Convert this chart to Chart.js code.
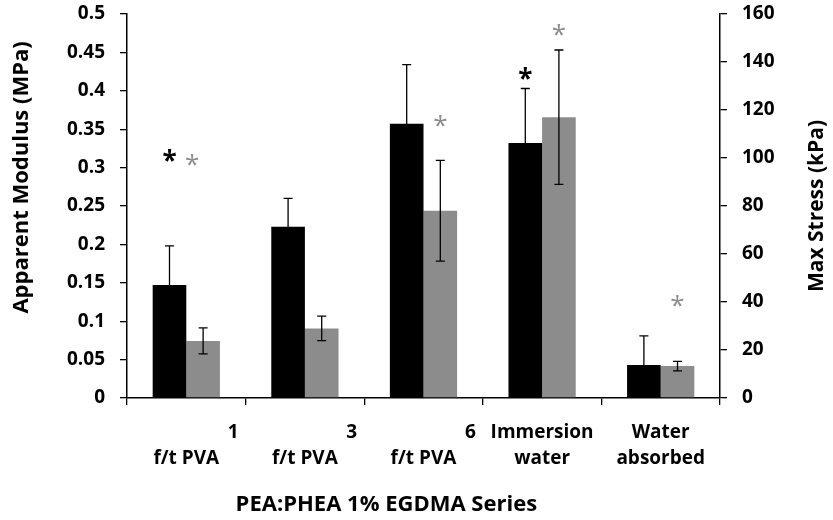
<!DOCTYPE html>
<html>
<head>
<meta charset="utf-8">
<script src="https://cdn.jsdelivr.net/npm/chart.js@4.4.1/dist/chart.umd.min.js"></script>
<style>
  html, body { margin: 0; padding: 0; background: #fff; }
</style>
</head>
<body>
<canvas id="chart" width="833" height="520"></canvas>
<script>
// data
const catTop = ['1', '3', '6', 'Immersion', 'Water'];
const catBottom = ['f/t PVA', 'f/t PVA', 'f/t PVA', 'water', 'absorbed'];

const modulus = [0.147, 0.223, 0.357, 0.332, 0.043];      // MPa, left axis
const modulusErr = [0.051, 0.037, 0.077, 0.071, 0.038];
const stress = [23.8, 29.0, 78.0, 117.0, 13.3];           // kPa, right axis
const stressErr = [5.4, 5.1, 21.0, 28.0, 2.0];

// significance markers (value on each axis, null = none)
const modulusStars = [0.316, null, null, 0.423, null];
const stressStars = [100, null, 116, 154, 41];

const modulusTicks = [0, 0.05, 0.1, 0.15, 0.2, 0.25, 0.3, 0.35, 0.4, 0.45, 0.5];
const stressTicks = [0, 20, 40, 60, 80, 100, 120, 140, 160];

const FONT = '"Open Sans", "Liberation Sans", sans-serif';
const GRAY = '#8c8c8c';

// numeric labels sit to the right in the original, pad them with spaces
const labels = catTop.map((t, i) => {
  const top = /^\d+$/.test(t) ? ' '.repeat(19) + t : t;
  return [top, catBottom[i]];
});

const extras = {
  id: 'extras',
  afterDatasetsDraw(chart) {
    const ctx = chart.ctx;
    const y = chart.scales.y, y2 = chart.scales.y2;
    const m0 = chart.getDatasetMeta(0), m1 = chart.getDatasetMeta(1);
    ctx.save();
    ctx.strokeStyle = '#000';
    ctx.lineWidth = 1.3;
    const bar = (x, v, e, scale) => {
      const top = scale.getPixelForValue(v + e);
      const bot = scale.getPixelForValue(Math.max(0, v - e));
      ctx.beginPath();
      ctx.moveTo(x, top); ctx.lineTo(x, bot);
      ctx.moveTo(x - 4.5, top); ctx.lineTo(x + 4.5, top);
      ctx.moveTo(x - 4.5, bot); ctx.lineTo(x + 4.5, bot);
      ctx.stroke();
    };
    modulus.forEach((v, i) => bar(m0.data[i].x, v, modulusErr[i], y));
    stress.forEach((v, i) => bar(m1.data[i].x, v, stressErr[i], y2));

    // asterisks
    const fs = 26;
    ctx.textAlign = 'center';
    ctx.textBaseline = 'alphabetic';
    ctx.fillStyle = '#000';
    ctx.font = 'bold ' + fs + 'px ' + FONT;
    modulusStars.forEach((v, i) => {
      if (v == null) return;
      ctx.fillText('*', m0.data[i].x, y.getPixelForValue(v) + 0.56 * fs);
    });
    ctx.fillStyle = GRAY;
    ctx.font = fs + 'px ' + FONT;
    stressStars.forEach((v, i) => {
      if (v == null) return;
      const x = i === 0 ? m1.data[i].x - 11 : m1.data[i].x;
      ctx.fillText('*', x, y2.getPixelForValue(v) + 0.56 * fs);
    });
    ctx.restore();
  },
  afterDraw(chart) {
    // right title reads bottom-to-top like the left one
    const ctx = chart.ctx, a = chart.chartArea;
    ctx.save();
    ctx.translate(817, (a.top + a.bottom) / 2);
    ctx.rotate(-Math.PI / 2);
    ctx.font = 'bold 21px ' + FONT;
    ctx.fillStyle = '#000';
    ctx.textAlign = 'center';
    ctx.textBaseline = 'middle';
    ctx.fillText('Max Stress (kPa)', 0, 0);
    ctx.restore();
  }
};

const tickFont = { family: FONT, size: 19, weight: 'bold' };
const titleFont = { family: FONT, size: 22, weight: 'bold' };

new Chart(document.getElementById('chart'), {
  type: 'bar',
  data: {
    labels: labels,
    datasets: [
      {
        label: 'Apparent Modulus',
        data: modulus,
        yAxisID: 'y',
        backgroundColor: '#000000',
        barPercentage: 1,
        categoryPercentage: 0.567
      },
      {
        label: 'Max Stress',
        data: stress,
        yAxisID: 'y2',
        backgroundColor: GRAY,
        barPercentage: 1,
        categoryPercentage: 0.567
      }
    ]
  },
  options: {
    responsive: false,
    animation: false,
    devicePixelRatio: 1,
    layout: { padding: { top: 14, left: 0, right: 0, bottom: 0 } },
    plugins: {
      legend: { display: false },
      tooltip: { enabled: false }
    },
    scales: {
      x: {
        grid: { display: true, offset: true, drawOnChartArea: false, tickLength: 7, color: '#000', lineWidth: 1.3 },
        border: { display: true, color: '#000', width: 1.5 },
        ticks: {
          color: '#000',
          font: { family: FONT, size: 19, weight: 'bold', lineHeight: 1.38 },
          padding: 14,
          autoSkip: false,
          maxRotation: 0,
          minRotation: 0
        },
        title: {
          display: true,
          text: 'PEA:PHEA 1% EGDMA Series' + ' '.repeat(13),
          color: '#000',
          font: titleFont,
          padding: { top: 0, bottom: 2 }
        },
        afterFit(s) { s.height = 122; s.paddingLeft = 0; s.paddingRight = 0; }
      },
      y: {
        position: 'left',
        min: 0,
        max: 0.5,
        afterBuildTicks(s) { s.ticks = modulusTicks.map(v => ({ value: v })); },
        grid: { display: true, drawOnChartArea: false, tickLength: 7, color: '#000', lineWidth: 1.3 },
        border: { display: true, color: '#000', width: 1.5 },
        ticks: {
          color: '#000',
          font: tickFont,
          padding: 15,
          callback: v => String(+v.toFixed(2))
        },
        title: {
          display: true,
          text: ' '.repeat(10) + 'Apparent Modulus (MPa)',
          color: '#000',
          font: titleFont,
          padding: { top: 9, bottom: 0 }
        },
        afterFit(s) { s.width = 127; s.paddingTop = 0; s.paddingBottom = 0; }
      },
      y2: {
        position: 'right',
        min: 0,
        max: 160,
        afterBuildTicks(s) { s.ticks = stressTicks.map(v => ({ value: v })); },
        grid: { display: true, drawOnChartArea: false, tickLength: 7, color: '#000', lineWidth: 1.3 },
        border: { display: true, color: '#000', width: 1.5 },
        ticks: {
          color: '#000',
          font: tickFont,
          padding: 15
        },
        afterFit(s) { s.width = 113; s.paddingTop = 0; s.paddingBottom = 0; }
      }
    }
  },
  plugins: [extras]
});
</script>
</body>
</html>
